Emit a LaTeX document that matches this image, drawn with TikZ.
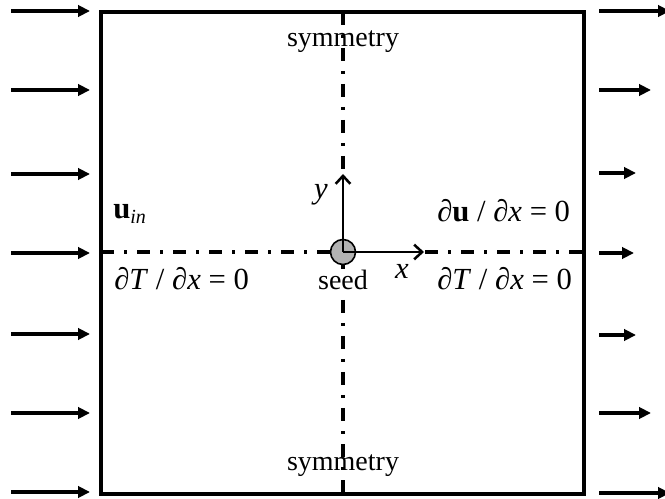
\documentclass[tikz,border=0pt]{standalone}
\usepackage{fontspec}
\setmainfont{Liberation Serif}
\usetikzlibrary{arrows.meta}
\begin{document}
\begin{tikzpicture}[x=0.75pt,y=-0.75pt,
  flow/.style={line width=2.4pt,-{Triangle[length=9pt,width=8.5pt]}},
  axis/.style={line width=1.9pt,-{Straight Barb[length=6pt,width=11pt]}},
  dashdotline/.style={line width=2.3pt,dash pattern=on 9.75pt off 7.5pt on 2.25pt off 7.5pt},
  txt/.style={font=\fontsize{21}{25}\selectfont,inner sep=0pt},
  mth/.style={font=\fontsize{23}{27}\selectfont,inner sep=0pt}]
\useasboundingbox (0,0) rectangle (665,499);
% box
\coordinate (tl) at (101,12);
\coordinate (br) at (584,494);
% symmetry lines
\coordinate (hl) at (101,252);
\coordinate (hr) at (584,252);
\coordinate (vt) at (343,12);
\coordinate (vb) at (343,494);
% texts (drawn before the vertical line so that the line passes over them)
\node[txt,anchor=base] (symtop) at (343,47) {symmetry};
\node[txt,anchor=base] (symbot) at (343,470) {symmetry};
\draw[dashdotline] (hl) -- (hr);
\draw[dashdotline] (vt) -- (vb);
\draw[line width=2.6pt] (tl) rectangle (br);
% inlet arrows
\foreach \i/\yy in {1/11,2/90,3/174,4/253,5/334,6/413,7/492}{
  \coordinate (ls\i) at (11,\yy);
  \coordinate (le\i) at (90,\yy);
  \draw[flow] (ls\i) -- (le\i);
}
% outlet arrows
\foreach \i/\yy/\xe in {1/11/670,2/90/651,3/173/636,4/253/634,5/335/636,6/413/651,7/493/670}{
  \coordinate (rs\i) at (599,\yy);
  \coordinate (re\i) at (\xe,\yy);
  \draw[flow] (rs\i) -- (re\i);
}
% seed and axes
\coordinate (ytip) at (343,174);
\coordinate (xtip) at (424,252);
\coordinate (orig) at (343,252);
\fill[white] (335,244) rectangle (425,260);
\fill[white] (335,174) rectangle (351,260);
\draw[axis] (orig) -- (ytip);
\draw[axis] (orig) -- (xtip);
\node[circle,draw,line width=1.2pt,fill=black!30,minimum size=18.75pt,inner sep=0pt] (seed) at (orig) {};
\draw[line width=1.9pt] (seed.center) -- (seed.north);
\draw[line width=1.9pt] (seed.center) -- (seed.east);
\node[mth,anchor=base] (xl) at (402,279) {\textit{x}};
\node[mth,anchor=base] (yl) at (321,199) {\textit{y}};
\node[txt,anchor=base,fill=white,inner ysep=1pt] (seedl) at (343,290) {seed};
% boundary conditions
\node[mth,anchor=base west] (uin) at (113,219) {\textbf{u}\raisebox{-0.3ex}{\fontsize{15}{17}\selectfont\textit{in}}};
\node[mth,anchor=base west] (dTl) at (114,290) {∂\textit{T} / ∂\textit{x} = 0};
\node[mth,anchor=base west] (dur) at (437,222) {∂\textbf{u} / ∂\textit{x} = 0};
\node[mth,anchor=base west] (dTr) at (437,290) {∂\textit{T} / ∂\textit{x} = 0};
\end{tikzpicture}
\end{document}
